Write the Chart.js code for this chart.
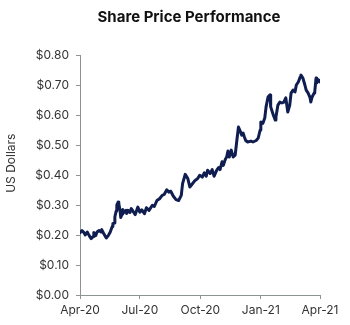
<!DOCTYPE html>
<html>
<head>
<meta charset="utf-8">
<script src="https://cdn.jsdelivr.net/npm/chart.js@4.4.1/dist/chart.umd.min.js"></script>
<style>
  html, body { margin: 0; padding: 0; background: #ffffff; }
  #wrap { width: 350px; height: 325px; position: relative; }
</style>
</head>
<body>
<div id="wrap"><canvas id="c" width="350" height="325"></canvas></div>
<script>
// Days since 1 Apr 2020
const days = [0,3,6,8,11,14,17,20,21,24,26,29,32,33,36,40,43,46,49,50,52,53,55,56,58,59,61,62,64,65,67,70,71,73,76,78,81,84,
  88,91,94,98,101,105,110,113,117,121,125,128,132,135,138,142,146,150,154,156,160,164,167,171,175,179,182,
  186,189,192,194,198,201,204,208,211,213,216,218,221,223,225,227,230,233,236,238,241,243,246,248,250,252,255,260,263,268,271,
  274,275,278,281,283,286,289,290,294,297,298,301,304,307,310,313,316,319,321,324,327,329,332,335,336,339,342,344,
  347,350,351,353,356,357,359,360,363,365];
// Share price, US dollars
const prices = [0.208,0.215,0.208,0.20,0.21,0.198,0.188,0.195,0.208,0.198,0.21,0.215,0.21,0.218,0.205,0.19,0.198,0.21,0.228,0.238,
  0.24,0.26,0.28,0.30,0.31,0.305,0.28,0.258,0.27,0.285,0.275,0.282,0.272,0.282,0.275,0.288,0.278,0.268,
  0.293,0.276,0.284,0.271,0.291,0.282,0.299,0.295,0.315,0.321,0.332,0.335,0.351,0.343,0.346,0.329,0.318,0.315,0.332,0.371,
  0.402,0.388,0.36,0.371,0.382,0.388,0.399,
  0.393,0.407,0.396,0.416,0.405,0.418,0.396,0.416,0.425,0.418,0.444,0.432,0.452,0.46,0.48,0.46,0.483,0.46,0.466,0.505,
  0.56,0.55,0.533,0.54,0.527,0.515,0.51,0.513,0.51,0.515,0.523,
  0.55,0.577,0.572,0.59,0.627,0.66,0.667,0.627,0.60,0.583,0.593,0.633,0.643,0.64,0.643,0.657,0.61,0.633,0.673,0.683,
  0.677,0.70,0.71,0.727,0.733,0.723,0.70,0.683,
  0.673,0.657,0.643,0.66,0.673,0.677,0.723,0.707,0.717,0.71];
const tickDays = [0, 91, 183, 275, 365];
const tickLabels = ['Apr-20', 'Jul-20', 'Oct-20', 'Jan-21', 'Apr-21'];

const points = days.map((d, i) => ({ x: d, y: prices[i] }));
const axisColor = '#8c9494';
const textColor = '#333333';
const fontFamily = 'Inter, "Open Sans", sans-serif';

// Shift the title block so it is centred like the reference
const titlePlacement = {
  id: 'titlePlacement',
  afterLayout(chart) {
    if (chart.titleBlock) { chart.titleBlock.left = 28; chart.titleBlock.right = 350; }
  }
};

new Chart(document.getElementById('c'), {
  type: 'line',
  data: {
    datasets: [{
      data: points,
      borderColor: '#0f1d50',
      borderWidth: 3,
      pointRadius: 0,
      tension: 0,
      fill: false,
      borderJoinStyle: 'round',
      borderCapStyle: 'round'
    }]
  },
  plugins: [titlePlacement],
  options: {
    responsive: false,
    animation: false,
    devicePixelRatio: 1,
    layout: { padding: { left: 0, right: 30, top: 0, bottom: 0 } },
    plugins: {
      legend: { display: false },
      tooltip: { enabled: false },
      title: {
        display: true,
        text: 'Share Price Performance',
        color: '#111111',
        font: { family: fontFamily, size: 15, weight: 'bold' },
        padding: { top: 8, bottom: 29 }
      }
    },
    scales: {
      x: {
        type: 'linear',
        min: 0,
        max: 365,
        afterBuildTicks: (scale) => { scale.ticks = tickDays.map(v => ({ value: v })); },
        afterFit: (scale) => { scale.height = 30; },
        border: { display: true, color: axisColor, width: 1 },
        grid: { display: true, drawOnChartArea: false, drawTicks: true, tickLength: 4, color: axisColor },
        ticks: {
          autoSkip: false,
          maxRotation: 0,
          padding: 4,
          color: textColor,
          font: { family: fontFamily, size: 12 },
          callback: (v) => { const i = tickDays.indexOf(v); return i >= 0 ? tickLabels[i] : ''; }
        }
      },
      y: {
        min: 0,
        max: 0.8,
        afterFit: (scale) => { scale.width = 80; },
        border: { display: true, color: axisColor, width: 1 },
        grid: { display: true, drawOnChartArea: false, drawTicks: true, tickLength: 4, color: axisColor },
        title: {
          display: true,
          text: '\u00a0\u00a0\u00a0\u00a0\u00a0\u00a0\u00a0US Dollars',
          color: textColor,
          font: { family: fontFamily, size: 12 },
          padding: { top: 4, bottom: 4 }
        },
        ticks: {
          stepSize: 0.1,
          padding: 7,
          color: textColor,
          font: { family: fontFamily, size: 12 },
          callback: (v) => '$' + Number(v).toFixed(2)
        }
      }
    }
  }
});
</script>
</body>
</html>
